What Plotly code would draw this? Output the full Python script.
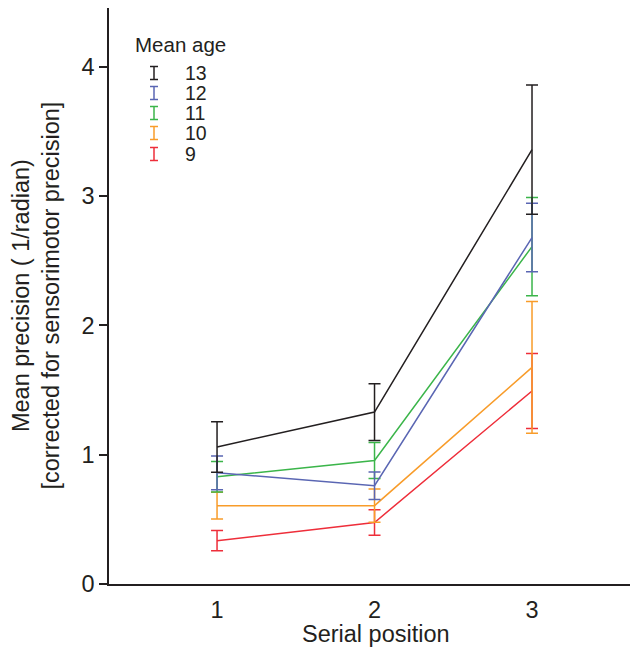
import plotly.graph_objects as go

# ---- data ----
positions = [1, 2, 3]
ages = ["13", "12", "11", "10", "9"]
colors = ["#231f20", "#5a66b3", "#3bb54a", "#f89c2a", "#ee2e3a"]

mean_13 = [1.06, 1.33, 3.36]
err_13 = [0.195, 0.22, 0.50]
mean_12 = [0.86, 0.76, 2.68]
err_12 = [0.13, 0.107, 0.265]
mean_11 = [0.83, 0.955, 2.61]
err_11 = [0.118, 0.139, 0.38]
mean_10 = [0.606, 0.606, 1.676]
err_10 = [0.103, 0.128, 0.51]
mean_9 = [0.335, 0.476, 1.493]
err_9 = [0.078, 0.098, 0.29]

means = [mean_13, mean_12, mean_11, mean_10, mean_9]
errs = [err_13, err_12, err_11, err_10, err_9]

y_ticks = [0, 1, 2, 3, 4]
x_title = "Serial position"
y_title = "Mean precision ( 1/radian)<br>[corrected for sensorimotor precision]"
legend_title = "Mean age"

# ---- layout geometry (pixels) ----
# page has an 8px body margin, so the figure is drawn 8px smaller
OFF = 8
W_FIG, H_FIG = 638 - OFF, 650 - OFF
L, R, T, B = 109 - OFF, 0, 8 - OFF, 66
PW = W_FIG - L - R
PH = H_FIG - T - B
FONT = "Liberation Sans, Arial, sans-serif"
AX = "#231f20"


def px_x(px):
    # page pixel -> paper coordinate
    return (px - OFF - L) / PW


def px_y(py):
    return (H_FIG - B - (py - OFF)) / PH


fig = go.Figure()
for name, m, e, c in reversed(list(zip(ages, means, errs, colors))):
    fig.add_trace(go.Scatter(
        x=positions, y=m, name=name, mode="lines",
        line=dict(color=c, width=1.5),
        error_y=dict(type="data", array=e, visible=True,
                     width=6, thickness=1.5, color=c),
        showlegend=False,
    ))

shapes = []
annotations = []
# manual legend
annotations.append(dict(text=legend_title, xref="paper", yref="paper",
                        x=px_x(133), y=px_y(44), xanchor="left", yanchor="middle",
                        showarrow=False, font=dict(family=FONT, size=20.5, color=AX)))
row_y = [73, 93, 113, 133, 154]
gx = 154
for name, c, ry in zip(ages, colors, row_y):
    top, bot = ry - 6.5, ry + 6.5
    shapes.append(dict(type="line", xref="paper", yref="paper",
                       x0=px_x(gx), x1=px_x(gx), y0=px_y(top), y1=px_y(bot),
                       line=dict(color=c, width=1.5)))
    for yy in (top, bot):
        shapes.append(dict(type="line", xref="paper", yref="paper",
                           x0=px_x(gx - 4), x1=px_x(gx + 4), y0=px_y(yy), y1=px_y(yy),
                           line=dict(color=c, width=1.5)))
    annotations.append(dict(text=name, xref="paper", yref="paper",
                            x=px_x(183), y=px_y(ry), xanchor="left", yanchor="middle",
                            showarrow=False, font=dict(family=FONT, size=19.5, color=AX)))

# axis titles
annotations.append(dict(text=y_title, xref="paper", yref="paper",
                        x=px_x(66), y=0.5, xanchor="right", yanchor="middle",
                        textangle=-90, showarrow=False,
                        font=dict(family=FONT, size=23.5, color=AX)))
annotations.append(dict(text=x_title, xref="paper", yref="paper",
                        x=px_x(376), y=px_y(634), xanchor="center", yanchor="middle",
                        showarrow=False, font=dict(family=FONT, size=23.5, color=AX)))

fig.update_layout(
    width=W_FIG, height=H_FIG,
    margin=dict(l=L, r=R, t=T, b=B, pad=0),
    plot_bgcolor="white", paper_bgcolor="white",
    shapes=shapes, annotations=annotations,
    font=dict(family=FONT, color=AX),
)
fig.update_xaxes(range=[0.314, 3.673], tickvals=positions,
                 ticktext=[str(p) for p in positions],
                 showline=True, linecolor=AX, linewidth=1.5,
                 showgrid=False, zeroline=False,
                 ticks="outside", ticklen=4, tickcolor="rgba(0,0,0,0)",
                 tickfont=dict(family=FONT, size=23.5, color=AX))
fig.update_yaxes(range=[0, 4.456], tickvals=y_ticks,
                 showline=True, linecolor=AX, linewidth=1.5,
                 showgrid=False, zeroline=False,
                 ticks="outside", ticklen=8, tickwidth=1.5, tickcolor=AX,
                 tickfont=dict(family=FONT, size=23.5, color=AX))

fig.write_html("out.html")
